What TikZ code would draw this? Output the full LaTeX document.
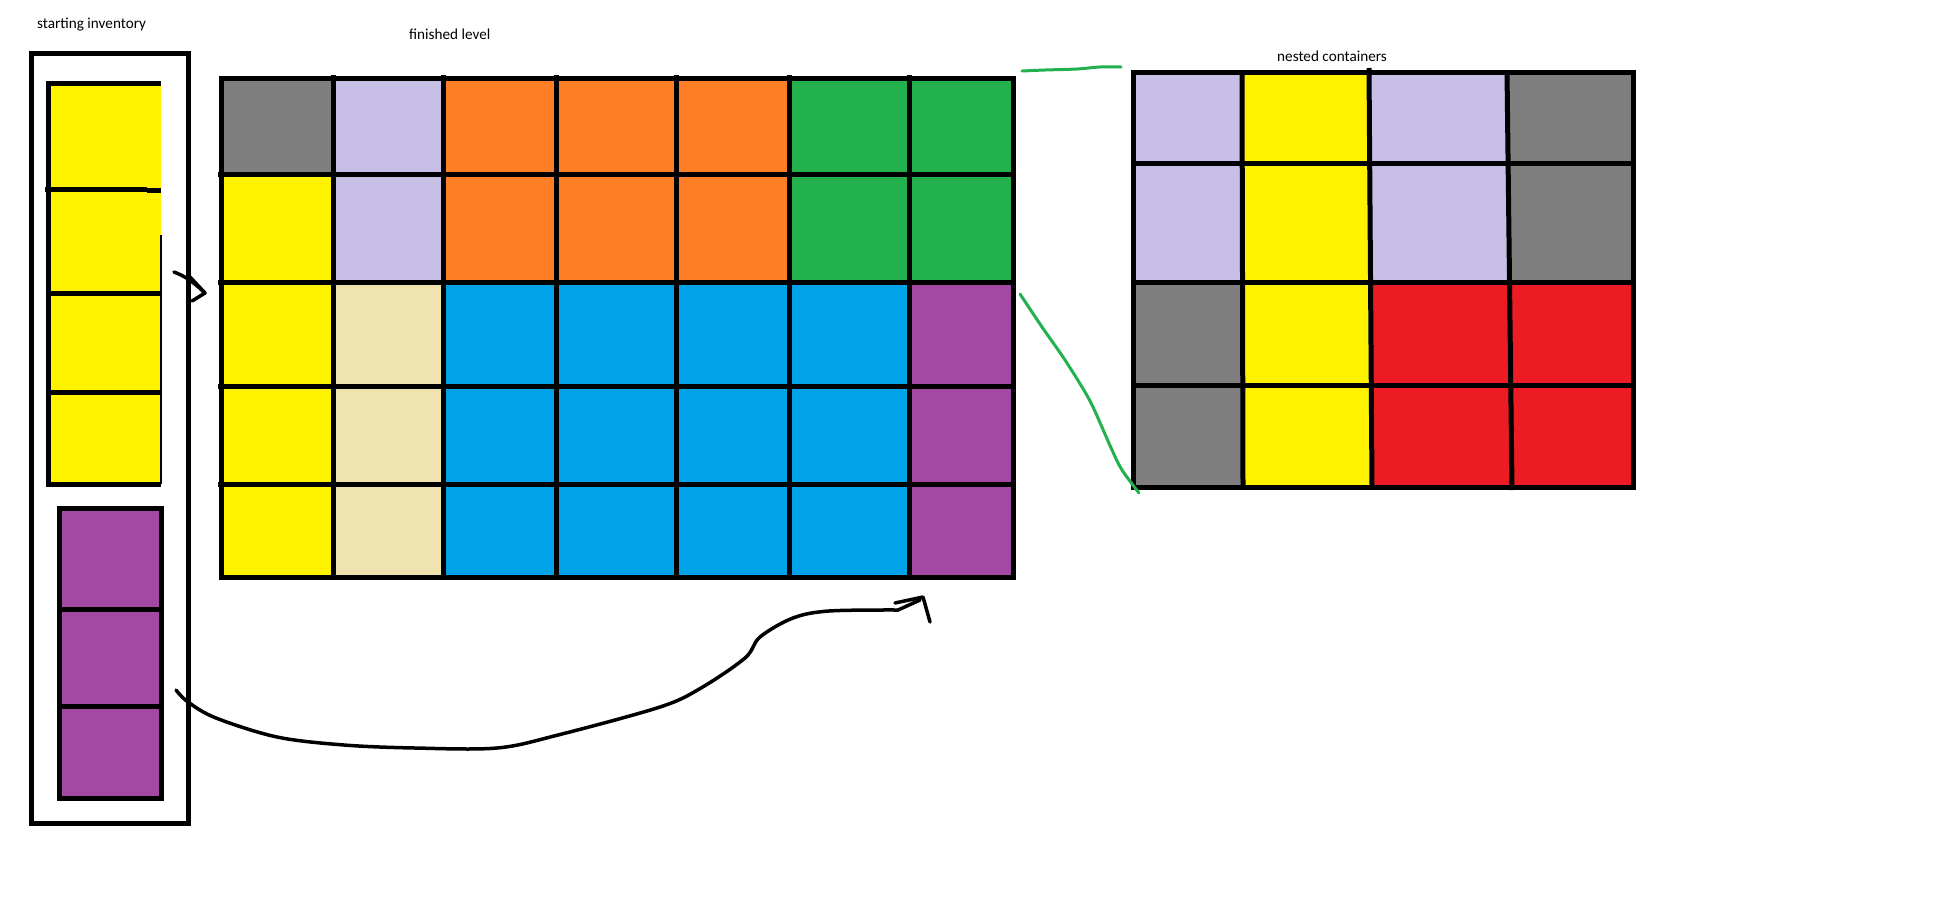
\documentclass[tikz,border=0pt]{standalone}
\usepackage{fontspec}
\setmainfont{Carlito}
\definecolor{pgray}{HTML}{7F7F7F}
\definecolor{plav}{HTML}{C8BFE7}
\definecolor{porange}{HTML}{FF7F27}
\definecolor{pgreen}{HTML}{22B14C}
\definecolor{pyellow}{HTML}{FFF200}
\definecolor{pbeige}{HTML}{EFE4B0}
\definecolor{pblue}{HTML}{00A2E8}
\definecolor{ppurple}{HTML}{A349A4}
\definecolor{pred}{HTML}{ED1C24}
\begin{document}
\begin{tikzpicture}[x=1pt,y=-1pt,
  gline/.style={line width=5pt, black},
  thinline/.style={line width=2.5pt, black},
  hand/.style={line width=3.5pt, black, line cap=round, line join=round},
  zoomline/.style={line width=3pt, pgreen, line cap=round, line join=round},
  lbl/.style={font=\fontsize{15.2}{18}\selectfont, inner sep=0pt, anchor=base west}]
\useasboundingbox (0,0) rectangle (1937,916);
\fill[white] (0,0) rectangle (1937,916);

% labels
\node[lbl] (tinv) at (37,28) {starting inventory};
\node[lbl] (tfin) at (409,39) {finished level};
\node[lbl] (tnest) at (1277,61) {nested containers};

% ---------- starting inventory ----------
\draw[gline] (31,53) rectangle (188,823);
% yellow stack
\fill[pyellow] (48,83) rectangle (161,484);
\draw[gline] (161,83) -- (48,83) -- (48,484) -- (161,484);
\draw[thinline] (161,235) -- (161,484);
\draw[gline] (45,189) -- (147,189);
\draw[gline] (147,190) -- (161,190);
\draw[gline] (48,293) -- (161,293);
\draw[gline] (48,392) -- (161,392);
% purple stack
\fill[ppurple] (59,508) rectangle (161,798);
\draw[gline] (59,508) rectangle (161,798);
\draw[gline] (59,609) -- (161,609);
\draw[gline] (59,706) -- (161,706);

% ---------- finished level ----------
\fill[pgray]   (221,78)  rectangle (333,174);
\fill[plav]    (333,78)  rectangle (443,282);
\fill[porange] (443,78)  rectangle (789,282);
\fill[pgreen]  (789,78)  rectangle (1013,282);
\fill[pyellow] (221,174) rectangle (333,577);
\fill[pbeige]  (333,282) rectangle (443,577);
\fill[pblue]   (443,282) rectangle (909,577);
\fill[ppurple] (909,282) rectangle (1013,577);
\foreach \xx in {333,443,556,676,789,909} \draw[gline] (\xx,75) -- (\xx,580);
\foreach \yy in {174,282,386,484} \draw[gline] (218,\yy) -- (1016,\yy);
\draw[gline] (221,78) rectangle (1013,577);

% ---------- nested containers ----------
\fill[plav]    (1133,72)  rectangle (1242,282);
\fill[plav]    (1370,72)  rectangle (1507,282);
\fill[pyellow] (1242,72)  rectangle (1370,487);
\fill[pgray]   (1507,72)  rectangle (1633,282);
\fill[pgray]   (1133,282) rectangle (1242,487);
\fill[pred]    (1370,282) rectangle (1633,487);
\draw[gline] (1242,72) -- (1243,487);
\draw[gline] (1369,68) -- (1372,487);
\draw[gline] (1507,72) -- (1512,490);
\foreach \yy in {163,282,385} \draw[gline] (1133,\yy) -- (1636,\yy);
\draw[gline] (1133,72) rectangle (1633,487);

% ---------- arrows ----------
\coordinate (a1s) at (174,272);
\coordinate (a1t) at (205,293);
\draw[hand] (a1s) .. controls (184,276) and (190,279) .. (a1t);
\draw[hand] (190,277) -- (a1t) -- (192,301);

\coordinate (a2s) at (176,690);
\coordinate (a2t) at (923,597);
\draw[hand] plot[smooth, tension=0.55] coordinates {(a2s) (188,702) (216,718) (277,737) (344,745) (415,748) (497,748) (558,735) (660,707) (701,688) (745,658) (760,637) (793,618) (829,611) (898,610)};
\draw[hand] (895,603) -- (a2t) -- (930,622);
\draw[hand] (898,610) -- (920,600);

% ---------- green zoom lines ----------
\coordinate (g1s) at (1022,71);
\coordinate (g1t) at (1121,67);
\draw[zoomline] plot[smooth, tension=0.5] coordinates {(g1s) (1045,70) (1077,69) (1100,67) (g1t)};
\coordinate (g2s) at (1020,294);
\coordinate (g2t) at (1139,493);
\draw[zoomline] plot[smooth, tension=0.5] coordinates {(g2s) (1042,327) (1063,357) (1082,387) (1093,407) (1112,450) (1122,470) (g2t)};
\end{tikzpicture}
\end{document}
